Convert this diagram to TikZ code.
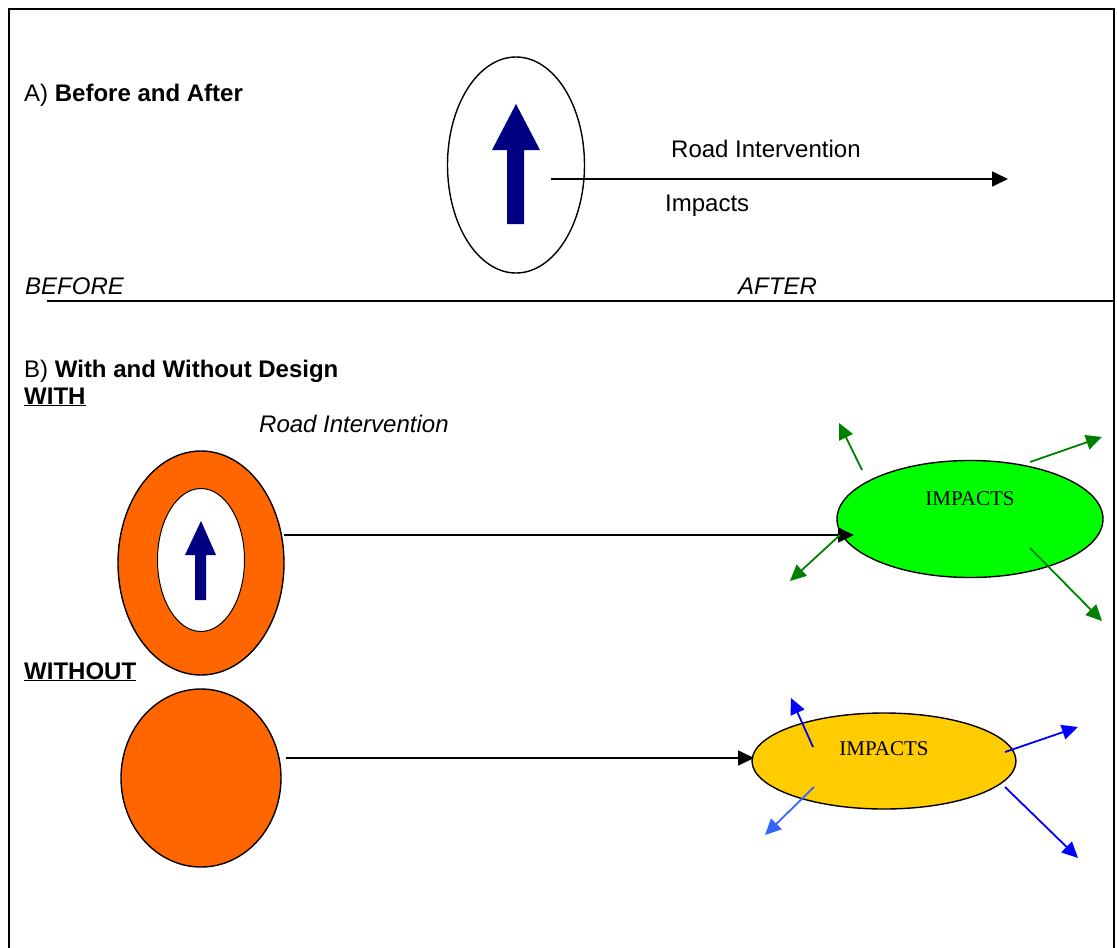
\documentclass[tikz,border=0pt]{standalone}
\usepackage{fontspec}
\setmainfont{Liberation Sans}
\newfontfamily\timesf{Liberation Serif}
\usetikzlibrary{shapes.geometric,arrows.meta}
\definecolor{navyc}{HTML}{000080}
\definecolor{orangec}{HTML}{FF6600}
\definecolor{greenc}{HTML}{00FF00}
\definecolor{dgreen}{HTML}{008000}
\definecolor{yellowc}{HTML}{FFCC00}
\definecolor{bluec}{HTML}{0000FF}
\definecolor{lbluec}{HTML}{3366FF}
\tikzset{
  oval/.style={ellipse, draw=black, line width=1.4pt, inner sep=0pt},
  lbl/.style={anchor=base west, inner sep=0pt, font=\fontsize{24}{28}\selectfont},
  imp/.style={anchor=base, inner sep=0pt, font=\timesf\fontsize{21}{24}\selectfont},
  conn/.style={line width=1.7pt, -{Triangle[length=16pt,width=15pt]}},
  garrow/.style={dgreen, line width=1.8pt, -{Triangle[length=16pt,width=15pt]}},
  barrow/.style={bluec, line width=1.8pt, -{Triangle[length=16pt,width=15pt]}},
  lbarrow/.style={lbluec, line width=1.8pt, -{Triangle[length=16pt,width=15pt]}},
}
\begin{document}
\begin{tikzpicture}[x=1pt,y=-1pt]
\useasboundingbox (0,0) rectangle (1117,948);
% frame
\draw[line width=1.6pt] (9,948) -- (9,9) -- (1114,9) -- (1114,948);
\draw[line width=1.6pt] (47,301) -- (1114,301);

% Part A
\node[lbl] (ta) at (24,101) {A) \textbf{Before and After}};
\node[oval, fill=white, minimum width=137pt, minimum height=216pt] (ea) at (516,165) {};
\fill[navyc] (507,224) -- (507,150) -- (492,150) -- (516,104) -- (540,150) -- (524,150) -- (524,224) -- cycle;
\coordinate (as) at (551,179);
\coordinate (ae) at (1008,179);
\draw[conn] (as) -- (ae);
\node[lbl] (tri) at (671,157) {Road Intervention};
\node[lbl] (timp) at (665,211) {Impacts};
\node[lbl, font=\fontsize{24}{28}\selectfont\itshape] (tbef) at (25,294) {BEFORE};
\node[lbl, font=\fontsize{24}{28}\selectfont\itshape] (taft) at (738,294) {AFTER};

% Part B
\node[lbl] (tb) at (24,377) {B) \textbf{With and Without Design}};
\node[lbl] (twith) at (24,404) {\textbf{\underline{WITH}}};
\node[lbl, font=\fontsize{24}{28}\selectfont\itshape] (tri2) at (259,432) {Road Intervention};

\node[oval, fill=orangec, minimum width=166pt, minimum height=224pt] (ring) at (201,563) {};
\node[oval, fill=white, line width=1pt, minimum width=87pt, minimum height=143pt] (ringin) at (201,560) {};
\fill[navyc] (195,600) -- (195,555) -- (185,555) -- (201,521) -- (216,555) -- (206,555) -- (206,600) -- cycle;

\node[oval, fill=greenc, minimum width=266pt, minimum height=117pt] (eg) at (970,519) {};
\node[imp] (timpg) at (970,505) {IMPACTS};
\coordinate (ws) at (284,535);
\coordinate (we) at (854,535);
\draw[conn] (ws) -- (we);
\coordinate (g1s) at (862,470); \coordinate (g1e) at (839,423);
\coordinate (g2s) at (1030,462); \coordinate (g2e) at (1102,437);
\coordinate (g3s) at (840,535); \coordinate (g3e) at (790,581);
\coordinate (g4s) at (1030,548); \coordinate (g4e) at (1102,621);
\draw[garrow] (g1s) -- (g1e);
\draw[garrow] (g2s) -- (g2e);
\draw[garrow] (g3s) -- (g3e);
\draw[garrow] (g4s) -- (g4e);

\node[lbl] (twithout) at (24,679) {\textbf{\underline{WITHOUT}}};
\node[oval, fill=orangec, minimum width=160pt, minimum height=178pt] (circ) at (201,778) {};
\node[oval, fill=yellowc, minimum width=264pt, minimum height=96pt] (ey) at (884,761) {};
\node[imp] (timpy) at (884,755) {IMPACTS};
\coordinate (os) at (286,758);
\coordinate (oe) at (754,758);
\draw[conn] (os) -- (oe);
\coordinate (b1s) at (813,747); \coordinate (b1e) at (791,698);
\coordinate (b2s) at (1005,752); \coordinate (b2e) at (1078,727);
\coordinate (b3s) at (814,787); \coordinate (b3e) at (765,835);
\coordinate (b4s) at (1005,787); \coordinate (b4e) at (1078,858);
\draw[barrow] (b1s) -- (b1e);
\draw[barrow] (b2s) -- (b2e);
\draw[lbarrow] (b3s) -- (b3e);
\draw[barrow] (b4s) -- (b4e);
\end{tikzpicture}
\end{document}
